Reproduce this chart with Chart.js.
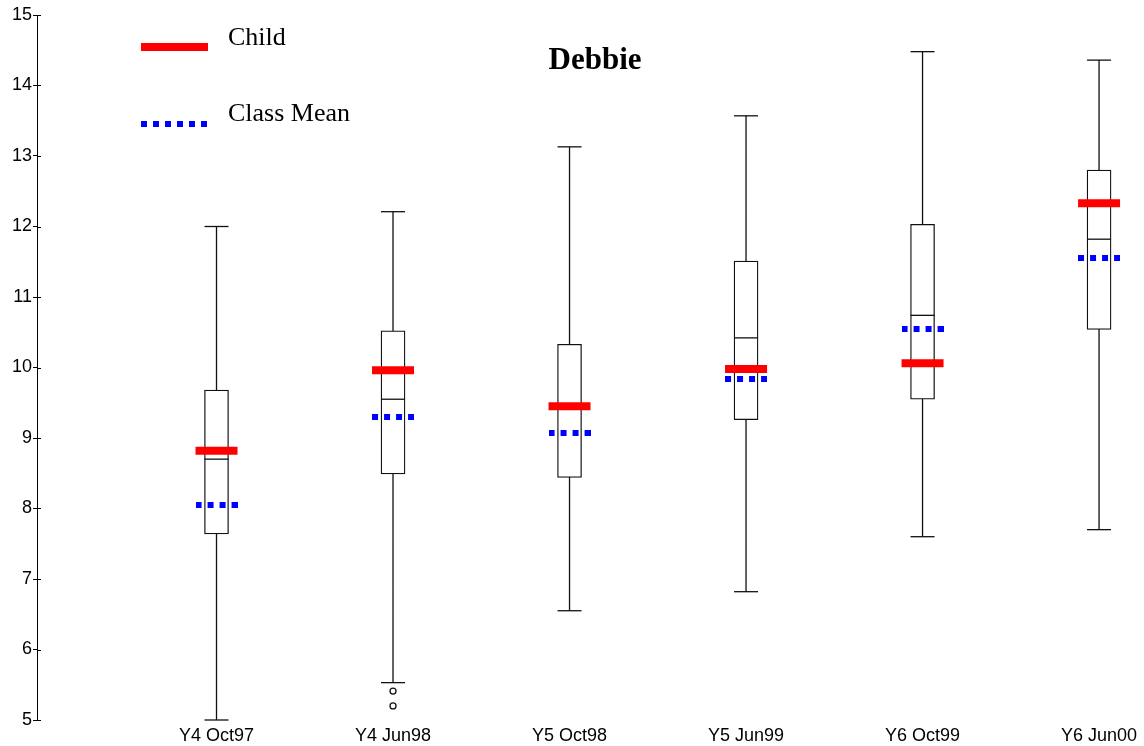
<!DOCTYPE html>
<html>
<head>
<meta charset="utf-8">
<title>Debbie</title>
<script src="https://cdn.jsdelivr.net/npm/chart.js@4.4.0/dist/chart.umd.min.js"></script>
<style>
  html, body { margin: 0; padding: 0; background: #fff; }
  canvas { display: block; }
</style>
</head>
<body>
<canvas id="boxChart" width="1144" height="746"></canvas>
<script>
// data
const categories = ["Y4 Oct97", "Y4 Jun98", "Y5 Oct98", "Y5 Jun99", "Y6 Oct99", "Y6 Jun00"];
const whiskerMin = [5.00, 5.53, 6.55, 6.82, 7.60, 7.70];
const quartile1 = [7.64, 8.49, 8.44, 9.26, 9.55, 10.54];
const medians = [8.70, 9.55, 9.45, 10.42, 10.74, 11.82];
const quartile3 = [9.68, 10.52, 10.33, 11.51, 12.03, 12.80];
const whiskerMax = [12.00, 12.21, 13.13, 13.57, 14.48, 14.36];
const childScores = [8.82, 9.96, 9.45, 9.98, 10.06, 12.33];
const classMeans = [8.05, 9.30, 9.07, 9.83, 10.54, 11.56];
const outliers = [{ cat: 1, value: 5.41 }, { cat: 1, value: 5.20 }];
const yTicks = [5, 6, 7, 8, 9, 10, 11, 12, 13, 14, 15];

const RED = "#ff0000";
const BLUE = "#0000ff";

// dotted blue marker used for the class mean
function dottedMarker(width, height, dash, gap) {
  const c = document.createElement("canvas");
  c.width = width;
  c.height = height;
  const g = c.getContext("2d");
  g.fillStyle = BLUE;
  for (let x = 0; x < width; x += dash + gap) {
    g.fillRect(x, 0, Math.min(dash, width - x), height);
  }
  return c;
}
const meanMarker = dottedMarker(42, 6, 6, 6);

const pts = (arr) => arr.map((v, i) => ({ x: i, y: v }));

const whiskerPoints = categories.flatMap((_, i) => [
  { x: i, y: whiskerMin[i] },
  { x: i, y: whiskerMax[i] },
  { x: i, y: null },
]);

const extras = {
  id: "extras",
  afterDraw(chart) {
    const ctx = chart.ctx;
    const yScale = chart.scales.y;
    ctx.save();
    // inward half of the y tick marks
    ctx.strokeStyle = "#000";
    ctx.lineWidth = 1;
    yTicks.forEach((t) => {
      const py = Math.round(yScale.getPixelForValue(t)) + 0.5;
      ctx.beginPath();
      ctx.moveTo(yScale.right, py);
      ctx.lineTo(yScale.right + 4, py);
      ctx.stroke();
    });

    // title
    ctx.fillStyle = "#000";
    ctx.font = "bold 31px 'Liberation Serif', 'Times New Roman', serif";
    ctx.textAlign = "center";
    ctx.textBaseline = "alphabetic";
    ctx.fillText("Debbie", 595, 69);

    // legend
    ctx.textAlign = "left";
    ctx.font = "26px 'Liberation Serif', 'Times New Roman', serif";
    ctx.strokeStyle = RED;
    ctx.lineWidth = 8;
    ctx.beginPath();
    ctx.moveTo(141, 47);
    ctx.lineTo(208, 47);
    ctx.stroke();
    ctx.fillText("Child", 228, 45);

    ctx.fillStyle = BLUE;
    for (let x = 141; x < 208; x += 12) ctx.fillRect(x, 121, 6, 6);
    ctx.fillStyle = "#000";
    ctx.fillText("Class Mean", 228, 121);
    ctx.restore();
  },
};

new Chart(document.getElementById("boxChart"), {
  data: {
    datasets: [
      {
        type: "scatter",
        label: "Child",
        data: pts(childScores),
        pointStyle: "line",
        pointRadius: 21,
        pointHoverRadius: 21,
        borderWidth: 8,
        pointBorderWidth: 8,
        borderColor: RED,
        backgroundColor: RED,
        clip: false,
      },
      {
        type: "scatter",
        label: "Class Mean",
        data: pts(classMeans),
        pointStyle: meanMarker,
        clip: false,
      },
      {
        type: "scatter",
        label: "Median",
        data: pts(medians),
        pointStyle: "line",
        pointRadius: 12,
        pointBorderWidth: 1.3,
        borderColor: "#111",
        clip: false,
      },
      {
        type: "scatter",
        label: "Caps",
        data: pts(whiskerMin).concat(pts(whiskerMax)),
        pointStyle: "line",
        pointRadius: 12,
        pointBorderWidth: 1.3,
        borderColor: "#111",
        clip: false,
      },
      {
        type: "scatter",
        label: "Outliers",
        data: outliers.map((o) => ({ x: o.cat, y: o.value })),
        pointStyle: "circle",
        pointRadius: 3,
        pointBorderWidth: 1.3,
        borderColor: "#111",
        backgroundColor: "#fff",
        clip: false,
      },
      {
        type: "bar",
        label: "Box",
        data: categories.map((_, i) => ({ x: i, y: [quartile1[i], quartile3[i]] })),
        barThickness: 24,
        backgroundColor: "#fff",
        borderColor: "#111",
        borderWidth: 1.3,
        borderSkipped: false,
      },
      {
        type: "line",
        label: "Whiskers",
        data: whiskerPoints,
        borderColor: "#111",
        borderWidth: 1.3,
        pointRadius: 0,
        spanGaps: false,
        fill: false,
        clip: false,
      },
    ],
  },
  options: {
    responsive: false,
    animation: false,
    layout: { autoPadding: false, padding: { top: 15, right: 4, left: 0, bottom: 0 } },
    plugins: {
      legend: { display: false },
      title: { display: false },
      tooltip: { enabled: false },
    },
    scales: {
      x: {
        type: "linear",
        offset: false,
        min: -1.017,
        max: 5.232,
        grid: { display: false, drawTicks: false, offset: false },
        border: { display: false },
        afterBuildTicks: (scale) => {
          scale.ticks = categories.map((_, i) => ({ value: i }));
        },
        afterFit: (scale) => {
          scale.height = 26;
          scale.paddingLeft = 0;
          scale.paddingRight = 0;
        },
        ticks: {
          autoSkip: false,
          maxRotation: 0,
          padding: 7,
          color: "#000",
          font: { family: "'Liberation Sans', Arial, sans-serif", size: 18, lineHeight: 1 },
          callback: (v) => categories[v],
        },
      },
      y: {
        min: 5,
        max: 15,
        afterBuildTicks: (scale) => {
          scale.ticks = yTicks.map((v) => ({ value: v }));
        },
        afterFit: (scale) => {
          scale.width = 37;
          scale.paddingTop = 0;
          scale.paddingBottom = 0;
        },
        grid: {
          drawOnChartArea: false,
          drawTicks: true,
          tickLength: 4,
          color: "#000",
        },
        border: { display: true, color: "#000", width: 1 },
        ticks: {
          padding: 1,
          color: "#000",
          font: { family: "'Liberation Sans', Arial, sans-serif", size: 18 },
        },
      },
    },
  },
  plugins: [extras],
});
</script>
</body>
</html>
